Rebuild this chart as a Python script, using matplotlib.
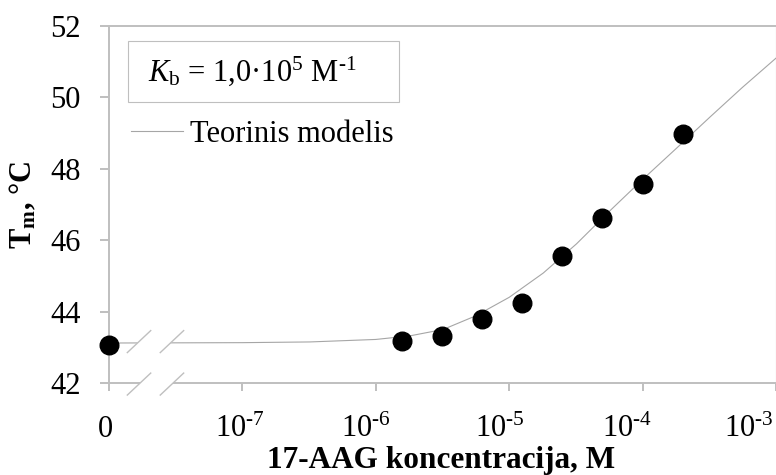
import numpy as np
import matplotlib.pyplot as plt
import matplotlib.transforms as mtransforms
from matplotlib.patches import Rectangle, Polygon
from matplotlib.ticker import NullLocator

plt.rcParams['font.family'] = ['Liberation Serif', 'DejaVu Serif']
plt.rcParams['mathtext.fontset'] = 'custom'
plt.rcParams['mathtext.rm'] = 'Liberation Serif'
plt.rcParams['mathtext.it'] = 'Liberation Serif:italic'
plt.rcParams['mathtext.bf'] = 'Liberation Serif:bold'

# matavimai: 17-AAG koncentracija (M) ir lydymosi temperatura
conc = [0, 1.5625e-6, 3.125e-6, 6.25e-6, 1.25e-5, 2.5e-5, 5e-5, 1e-4, 2e-4]
tm = [43.06, 43.18, 43.32, 43.80, 44.23, 45.56, 46.61, 47.58, 48.97]

# teorinio modelio kreive (nuskaityta nuo grafiko)
model_conc = [0, 1e-7, 3.2e-7, 1e-6, 1.8e-6, 3.2e-6, 5.6e-6, 1e-5, 1.8e-5,
              3.2e-5, 5.6e-5, 1e-4, 1.8e-4, 3.2e-4, 5.6e-4, 1e-3]
model_tm = [43.12, 43.13, 43.15, 43.22, 43.32, 43.50, 43.88, 44.40, 45.08,
            45.90, 46.80, 47.70, 48.58, 49.45, 50.28, 51.10]

xtick_vals = [0, 1e-7, 1e-6, 1e-5, 1e-4, 1e-3]
xtick_labels = ['0', r'$10^{\text{-}7}$', r'$10^{\text{-}6}$', r'$10^{\text{-}5}$',
                r'$10^{\text{-}4}$', r'$10^{\text{-}3}$']
yticks = [42, 44, 46, 48, 50, 52]

GRAY = '#bfbfbf'
ZERO_AT = 1e-8  # 0 rodomas kairiajame nutrukusios asies gale
FS = 22


def xpos(v):
    v = np.asarray(v, dtype=float)
    return np.where(v == 0, ZERO_AT, v)


fig = plt.figure(figsize=(7.76, 4.75), dpi=100)
ax = fig.add_axes([109 / 776, 92 / 475, 667 / 776, 357 / 475])
ax.set_xscale('log')
ax.set_xlim(1e-8, 1e-3)
ax.set_ylim(42, 52)

model_line, = ax.plot(xpos(model_conc), model_tm, color='#a6a6a6', lw=0.8,
                      zorder=3, label='Teorinis modelis')
ax.plot(xpos(conc), tm, 'o', color='black', ms=13.4, zorder=6, clip_on=False)

# asys
for s in ax.spines.values():
    s.set_color(GRAY)
    s.set_linewidth(1.4)
ax.spines['right'].set_linewidth(0.8)
ax.set_xticks(xpos(xtick_vals))
ax.xaxis.set_minor_locator(NullLocator())
ax.set_yticks(yticks)
ax.tick_params(axis='x', direction='out', length=6, width=1.4, color=GRAY,
               labelbottom=False)
ax.tick_params(axis='y', direction='out', length=6.5, width=1.4, color=GRAY,
               labelsize=FS, pad=13.7)

# x asies zymes (lygiuojamos pagal bazine linija)
label_dx = [-3.5, -2, -9.5, -9, -15.5, -27]
xt = ax.get_xaxis_transform()
for v, lab, dx in zip(xtick_vals, xtick_labels, label_dx):
    t = mtransforms.offset_copy(xt, fig=fig, x=dx, y=0, units='dots')
    ax.text(xpos(v), -0.1513, lab, transform=t, ha='center', va='baseline',
            fontsize=FS, clip_on=False)

ax.set_xlabel('17-AAG koncentracija, M', fontsize=22.5, fontweight='bold')
ax.xaxis.label.set_va('baseline')
ax.xaxis.set_label_coords(0.4985, -0.238)
ax.set_ylabel(r'$\mathbf{T_m}$, °C', fontsize=FS, fontweight='bold')
ax.yaxis.set_label_coords(-0.106, 0.5)

# asies nutraukimo zenklai
hw, hh = 0.0877, 0.308
bx = [-7.775, -7.528]
for yl in [43.16, 41.97]:
    poly = [(10 ** (bx[0] - hw), yl - hh), (10 ** (bx[0] + hw), yl + hh),
            (10 ** (bx[1] + hw), yl + hh), (10 ** (bx[1] - hw), yl - hh)]
    ax.add_patch(Polygon(poly, closed=True, facecolor='white', edgecolor='none',
                         zorder=4, clip_on=False))
    for c in bx:
        ax.plot([10 ** (c - hw), 10 ** (c + hw)], [yl - hh, yl + hh],
                color=GRAY, lw=1.0, zorder=5, clip_on=False)

# Kb uzrasas remelyje
ax.add_patch(Rectangle((0.0289, 0.7871), 0.4063, 0.1695, transform=ax.transAxes,
                       fill=False, edgecolor=GRAY, lw=0.8, zorder=5))
ax.text(0.0585, 0.8459, r'$K_\mathrm{b}$ = 1,0·10$^5$ M$^{\text{-}1}$',
        transform=ax.transAxes, fontsize=FS, va='baseline', zorder=6)

ax.legend(handles=[model_line], loc='upper left', bbox_to_anchor=(0.033, 0.7367),
          frameon=False, fontsize=FS, handlelength=1.7, handletextpad=0.23,
          borderpad=0, borderaxespad=0)

fig.savefig('out.png', dpi=100)
